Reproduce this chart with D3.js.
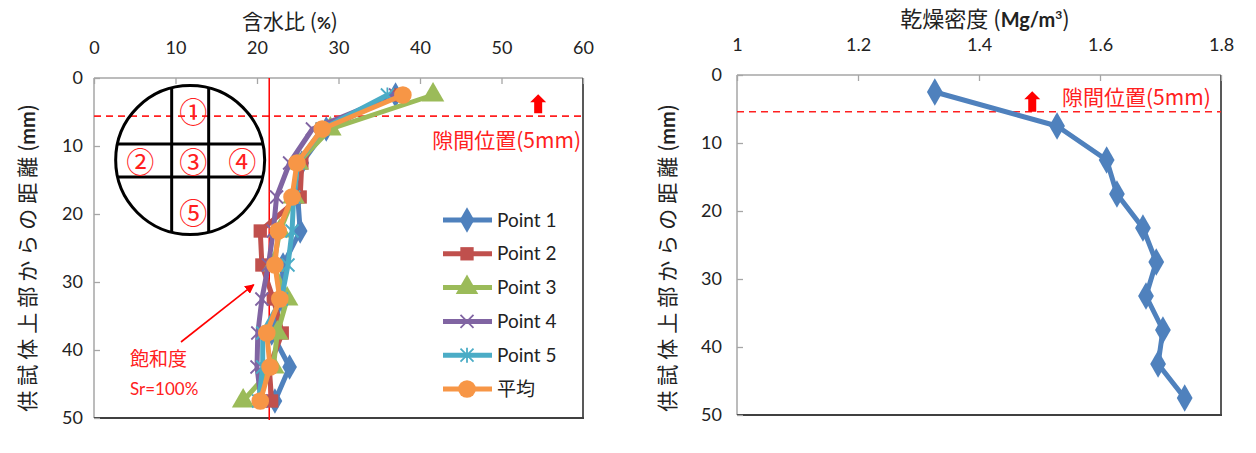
<!DOCTYPE html>
<html>
<head>
<meta charset="utf-8">
<script src="https://cdn.jsdelivr.net/npm/d3@7"></script>
<style>
  body { margin: 0; background: #fff; }
  text { font-family: Lato, "Noto Sans CJK JP", sans-serif; }
  .jp { font-family: "Noto Sans CJK JP", sans-serif; }
</style>
</head>
<body>
<div id="chart"></div>
<script>
const width = 1256, height = 453;

// depth below specimen top (mm)
const depths = [2.5, 7.5, 12.5, 17.5, 22.5, 27.5, 32.5, 37.5, 42.5, 47.5];

// water content (%) per measuring point
const point1 = [37.0, 28.5, 25.5, 25.0, 25.3, 23.2, 23.0, 21.8, 24.0, 22.2];
const point2 = [37.5, 28.0, 25.5, 25.3, 20.4, 20.6, 22.0, 23.1, 21.5, 21.8];
const point3 = [41.6, 29.0, 25.0, 24.5, 22.8, 22.0, 23.7, 22.5, 22.0, 18.3];
const point4 = [37.0, 26.8, 24.0, 22.4, 22.0, 21.4, 20.6, 20.1, 20.0, 20.5];
const point5 = [36.0, 28.0, 25.0, 24.5, 24.3, 23.8, 23.0, 20.7, 20.7, 20.2];
const average = [37.9, 28.0, 24.9, 24.3, 22.6, 22.2, 22.8, 21.2, 21.6, 20.4];

// dry density (Mg/m3)
const dryDensity = [1.327, 1.529, 1.611, 1.628, 1.671, 1.693, 1.676, 1.704, 1.696, 1.740];

const seriesNames = ["Point 1", "Point 2", "Point 3", "Point 4", "Point 5", "平均"];
const seriesColors = ["#4F81BD", "#C0504D", "#9BBB59", "#8064A2", "#4BACC6", "#F79646"];
const seriesMarkers = ["diamond", "square", "triangle", "x", "star", "circle"];

const waterTicks = [0, 10, 20, 30, 40, 50, 60];
const densityTicks = [1, 1.2, 1.4, 1.6, 1.8];
const densityLabels = ["1", "1.2", "1.4", "1.6", "1.8"];
const depthTicks = [0, 10, 20, 30, 40, 50];

const saturationLine = 21.5;     // Sr = 100 % line (%)
const gapDepthLeft = 5.6;        // dashed gap line, left chart
const gapDepthRight = 5.4;       // dashed gap line, right chart

let svg = d3.select('#chart')
    .append('svg')
      .attr('width', width)
      .attr('height', height);

// scales
const xL = d3.scaleLinear().domain([0, 60]).range([94, 583]);
const yL = d3.scaleLinear().domain([0, 50]).range([78, 418]);
const xR = d3.scaleLinear().domain([1, 1.8]).range([737, 1221]);
const yR = d3.scaleLinear().domain([0, 50]).range([75, 415]);

function drawFrame(x, y) {
    const [x0, x1] = x.range(), [y0, y1] = y.range();
    svg.append('line').attr('x1', x0).attr('x2', x1).attr('y1', y0).attr('y2', y0)
        .attr('stroke', '#a6a6a6').attr('stroke-width', 1.5);
    svg.append('line').attr('x1', x0).attr('x2', x0).attr('y1', y0).attr('y2', y1)
        .attr('stroke', '#a6a6a6').attr('stroke-width', 1.5);
    svg.append('line').attr('x1', x1).attr('x2', x1).attr('y1', y0).attr('y2', y1 + 1)
        .attr('stroke', '#595959').attr('stroke-width', 2);
    svg.append('line').attr('x1', x0).attr('x2', x1 + 1).attr('y1', y1).attr('y2', y1)
        .attr('stroke', '#404040').attr('stroke-width', 2.2);
}

function drawAxes(x, y, xticks, yticks, xpad, ypad, xfmt) {
    const gx = svg.append('g')
        .attr('transform', `translate(0,${y.range()[0]})`)
        .call(d3.axisTop(x).tickValues(xticks).tickFormat(xfmt)
            .tickSizeInner(-6).tickSizeOuter(0).tickPadding(xpad));
    const gy = svg.append('g')
        .attr('transform', `translate(${x.range()[0]},0)`)
        .call(d3.axisLeft(y).tickValues(yticks).tickSizeInner(-6).tickSizeOuter(0).tickPadding(ypad));
    [gx, gy].forEach(g => {
        g.select('.domain').remove();
        g.selectAll('line').attr('stroke', '#a6a6a6').attr('stroke-width', 1.3);
        g.selectAll('text').attr('font-size', 18).attr('fill', '#222')
            .style('font-family', 'Lato, sans-serif');
    });
}

function marker(sel, type, color, size) {
    if (type === 'x' || type === 'star') {
        const s = size * 0.5;
        let d = `M${-s},${-s}L${s},${s}M${-s},${s}L${s},${-s}`;
        if (type === 'star') d += `M0,${-s - 1}L0,${s + 1}`;
        sel.append('path').attr('d', d).attr('stroke', color).attr('stroke-width', 1.8).attr('fill', 'none');
        return;
    }
    const sym = { diamond: d3.symbolDiamond, square: d3.symbolSquare,
                  triangle: d3.symbolTriangle, circle: d3.symbolCircle }[type];
    const area = { diamond: 1.1, square: 1.05, triangle: 1.3, circle: 1.25 }[type] * size * size;
    sel.append('path').attr('d', d3.symbol(sym, area)()).attr('fill', color);
}

// ---------- left chart: water content ----------
drawFrame(xL, yL);
drawAxes(xL, yL, waterTicks, depthTicks, 24, 11, d => d);

// dashed gap line
svg.append('line')
    .attr('x1', xL(0)).attr('x2', xL(60))
    .attr('y1', yL(gapDepthLeft)).attr('y2', yL(gapDepthLeft))
    .attr('stroke', '#ff2020').attr('stroke-width', 1.6).attr('stroke-dasharray', '7,5');

// cross-section sketch
const cx = xL(11.8), cy = yL(12.06), r = 74.5;
const sketch = svg.append('g').attr('transform', `translate(${cx},${cy})`);
sketch.append('circle').attr('r', r).attr('fill', 'none').attr('stroke', '#000').attr('stroke-width', 3);
[-18.5, 18.5].forEach(dx => {
    const h = Math.sqrt(r * r - dx * dx);
    sketch.append('line').attr('x1', dx).attr('x2', dx).attr('y1', -h).attr('y2', h)
        .attr('stroke', '#000').attr('stroke-width', 3);
});
[-16, 17].forEach(dy => {
    const h = Math.sqrt(r * r - dy * dy);
    sketch.append('line').attr('y1', dy).attr('y2', dy).attr('x1', -h).attr('x2', h)
        .attr('stroke', '#000').attr('stroke-width', 3);
});
const circled = [["①", 3, -49], ["②", -50, 1], ["③", 3, 1], ["④", 52, 1], ["⑤", 3, 52]];
sketch.selectAll('text.num').data(circled).enter().append('text')
    .attr('class', 'jp')
    .attr('x', d => d[1]).attr('y', d => d[2])
    .attr('text-anchor', 'middle').attr('dominant-baseline', 'central')
    .attr('font-size', 28).attr('fill', '#ff2020')
    .text(d => d[0]);

// saturation line
svg.append('line')
    .attr('x1', xL(saturationLine)).attr('x2', xL(saturationLine))
    .attr('y1', yL(0)).attr('y2', yL(50) + 2)
    .attr('stroke', '#ff0000').attr('stroke-width', 1.5);

// series
const waterSeries = [point1, point2, point3, point4, point5, average];
const lineL = d3.line().x(d => xL(d[0])).y(d => yL(d[1]));
waterSeries.forEach((vals, i) => {
    const pts = vals.map((v, j) => [v, depths[j]]);
    svg.append('path').datum(pts)
        .attr('d', lineL)
        .attr('fill', 'none')
        .attr('stroke', seriesColors[i])
        .attr('stroke-width', 5)
        .attr('stroke-linejoin', 'round');
    pts.forEach(p => {
        const g = svg.append('g').attr('transform', `translate(${xL(p[0])},${yL(p[1])})`);
        marker(g, seriesMarkers[i], seriesColors[i], i === 5 ? 14 : 13);
    });
});

// legend
const legend = svg.append('g');
seriesNames.forEach((name, i) => {
    const ly = 220 + i * 33.8;
    legend.append('line').attr('x1', 443).attr('x2', 492).attr('y1', ly).attr('y2', ly)
        .attr('stroke', seriesColors[i]).attr('stroke-width', 5);
    const g = legend.append('g').attr('transform', `translate(467,${ly})`);
    marker(g, seriesMarkers[i], seriesColors[i], i === 5 ? 14 : 13);
    legend.append('text').attr('x', 497).attr('y', ly).attr('dy', '0.35em')
        .attr('class', i === 5 ? 'jp' : null)
        .attr('font-size', 19).attr('fill', '#222').text(name);
});

// annotations
function upArrow(x, yTop, yBottom) {
    const w = 7, hw = 4, head = 8;
    const p = d3.path();
    p.moveTo(x, yTop);
    p.lineTo(x + w + 1, yTop + head);
    p.lineTo(x + hw, yTop + head);
    p.lineTo(x + hw, yBottom);
    p.lineTo(x - hw, yBottom);
    p.lineTo(x - hw, yTop + head);
    p.lineTo(x - w - 1, yTop + head);
    p.closePath();
    svg.append('path').attr('d', p.toString()).attr('fill', '#ff0000');
}
upArrow(xL(54.5), yL(2.4), yL(5.2));
svg.append('text').attr('class', 'jp')
    .attr('x', xL(60) - 2).attr('y', 148).attr('text-anchor', 'end')
    .attr('font-size', 21).attr('fill', '#ff2020')
    .text('隙間位置(5mm)');

svg.append('text').attr('class', 'jp').attr('x', 130).attr('y', 366)
    .attr('font-size', 19).attr('fill', '#ff2020').text('飽和度');
svg.append('text').attr('x', 130).attr('y', 395)
    .attr('font-size', 17).attr('fill', '#ff2020').text('Sr=100%');

svg.append('defs').append('marker')
    .attr('id', 'ah').attr('viewBox', '0 0 10 10').attr('refX', 9).attr('refY', 5)
    .attr('markerWidth', 6).attr('markerHeight', 6).attr('orient', 'auto')
  .append('path').attr('d', 'M0,0L10,5L0,10Z').attr('fill', '#ff0000');
svg.append('line')
    .attr('x1', 181).attr('y1', 342).attr('x2', xL(19.6)).attr('y2', yL(30.4))
    .attr('stroke', '#ff0000').attr('stroke-width', 1.6).attr('marker-end', 'url(#ah)');

// titles
svg.append('text').attr('x', 290).attr('y', 29).attr('text-anchor', 'middle')
    .attr('font-size', 21).attr('fill', '#222')
    .call(t => {
        t.append('tspan').attr('class', 'jp').text('含水比 (');
        t.append('tspan').attr('font-weight', 'bold').attr('font-size', 17).text('%');
        t.append('tspan').attr('class', 'jp').text(')');
    });

function depthTitle(x) {
    svg.append('text')
        .attr('transform', `translate(${x},258) rotate(-90)`)
        .attr('text-anchor', 'middle').attr('dy', '0.35em')
        .attr('font-size', 21).attr('fill', '#222')
        .call(t => {
            t.append('tspan').attr('class', 'jp').attr('letter-spacing', 5).text('供試体上部からの距離');
            t.append('tspan').attr('class', 'jp').text('(');
            t.append('tspan').attr('font-weight', 'bold').attr('font-size', 20).text('mm');
            t.append('tspan').attr('class', 'jp').text(')');
        });
}
depthTitle(28);

// ---------- right chart: dry density ----------
drawFrame(xR, yR);
drawAxes(xR, yR, densityTicks, depthTicks, 24, 15, (d, i) => densityLabels[i]);

svg.append('line')
    .attr('x1', xR(1)).attr('x2', xR(1.8))
    .attr('y1', yR(gapDepthRight)).attr('y2', yR(gapDepthRight))
    .attr('stroke', '#ff2020').attr('stroke-width', 1.6).attr('stroke-dasharray', '7,5');

upArrow(xR(1.488), yR(2.4), yR(5.4));
svg.append('text').attr('class', 'jp')
    .attr('x', 1062).attr('y', 105)
    .attr('font-size', 21).attr('fill', '#ff2020')
    .text('隙間位置(5mm)');

const densPts = dryDensity.map((v, j) => [v, depths[j]]);
svg.append('path').datum(densPts)
    .attr('d', d3.line().x(d => xR(d[0])).y(d => yR(d[1])))
    .attr('fill', 'none').attr('stroke', '#4F81BD').attr('stroke-width', 5)
    .attr('stroke-linejoin', 'round');
densPts.forEach(p => {
    const g = svg.append('g').attr('transform', `translate(${xR(p[0])},${yR(p[1])})`);
    marker(g, 'diamond', '#4F81BD', 14);
});

svg.append('text').attr('x', 985).attr('y', 27).attr('text-anchor', 'middle')
    .attr('font-size', 22).attr('fill', '#222')
    .call(t => {
        t.append('tspan').attr('class', 'jp').text('乾燥密度 (');
        t.append('tspan').attr('font-weight', 'bold').attr('font-size', 20).text('Mg/m');
        t.append('tspan').attr('font-weight', 'bold').attr('font-size', 12).attr('dy', -8).text('3');
        t.append('tspan').attr('class', 'jp').attr('dy', 8).text(')');
    });
depthTitle(668);
</script>
</body>
</html>
